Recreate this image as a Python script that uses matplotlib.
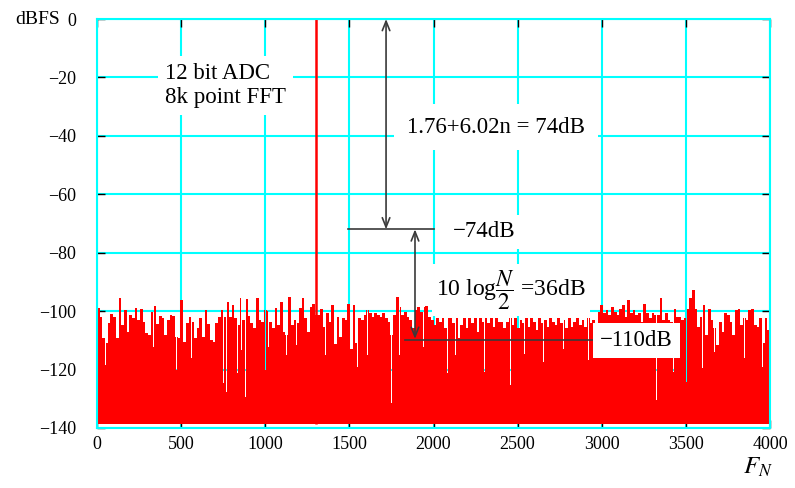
import numpy as np
import matplotlib
matplotlib.use('Agg')
import matplotlib.pyplot as plt
from matplotlib.patches import FancyArrowPatch

# ---------------- data ----------------
bin_width = 16.0  # Hz per read-off slot (0..4000)
noise_db = [
    # 0 - 784 Hz
    -98.8, -101.9, -109.3, -111.0, -104.2, -101.0, -101.9, -109.3, -95.6, -104.8,
    -99.6, -107.0, -101.3, -102.5, -98.8, -103.1, -99.3, -103.6, -107.6, -108.2,
    -100.2, -98.1, -104.5, -101.6, -102.5, -108.2, -103.1, -101.3, -101.6, -108.8,
    -109.3, -96.2, -110.5, -104.2, -101.9, -103.6, -109.3, -105.9, -102.5, -108.8,
    -99.6, -104.5, -109.9, -110.5, -104.2, -101.9, -99.6, -101.9, -96.8, -101.9,
    # 800 - 1584 Hz
    -97.9, -102.5, -104.8, -95.6, -103.1, -95.9, -101.6, -104.2, -105.9, -95.4,
    -103.1, -103.6, -99.6, -100.0, -103.6, -105.9, -98.8, -104.8, -96.8, -107.0,
    -108.2, -95.1, -104.8, -103.1, -104.2, -98.8, -95.6, -102.5, -107.0, -98.5,
    -97.7, -101.3, -101.3, -99.1, -105.3, -100.8, -103.6, -97.9, -111.4, -101.9,
    -108.8, -102.5, -103.1, -97.7, -112.8, -97.9, -111.0, -102.5, -103.1, -101.3,
    # 1600 - 2384 Hz
    -99.6, -100.8, -101.9, -100.8, -101.3, -101.9, -100.8, -102.5, -103.6, -108.2,
    -101.3, -95.1, -98.5, -101.3, -100.2, -101.9, -103.1, -105.9, -99.6, -98.5,
    -100.2, -98.5, -98.1, -101.9, -103.1, -104.8, -102.5, -103.6, -102.5, -105.9,
    -102.5, -102.3, -104.2, -102.5, -109.3, -104.8, -102.5, -105.9, -102.5, -104.2,
    -102.5, -107.0, -102.5, -103.6, -102.5, -104.2, -102.5, -105.3, -102.5, -103.6,
    # 2400 - 3184 Hz
    -103.6, -105.9, -103.6, -102.5, -104.8, -102.5, -105.9, -103.1, -104.2, -102.5,
    -105.3, -102.5, -103.6, -106.5, -102.5, -104.2, -103.1, -105.3, -102.5, -103.6,
    -104.8, -102.5, -104.2, -103.1, -105.9, -102.5, -105.3, -103.6, -102.5, -104.8,
    -103.1, -105.3, -102.5, -104.2, -103.1, -104.8, -100.2, -97.9, -100.8, -99.6,
    -101.3, -98.5, -100.2, -101.3, -99.1, -97.9, -101.9, -96.2, -100.8, -99.6,
    # 3200 - 3984 Hz
    -101.3, -100.8, -103.6, -97.4, -100.8, -102.5, -100.8, -101.3, -101.3, -95.4,
    -103.1, -100.8, -103.1, -103.6, -99.1, -101.9, -101.9, -103.1, -102.5, -99.1,
    -95.6, -92.8, -99.1, -105.3, -101.9, -97.9, -108.2, -99.1, -103.1, -105.9,
    -111.6, -103.6, -107.0, -100.8, -101.3, -103.6, -108.2, -99.6, -99.1, -104.8,
    -102.5, -103.1, -99.6, -99.1, -104.8, -105.3, -102.5, -111.0, -102.5, -106.5,
]
dip_freq = [50, 335, 472, 563, 751, 771, 834, 858, 880, 1000, 1022, 1127, 1187,
            1361, 1547, 1609, 1753, 1797, 1940, 2082, 2132, 2302, 2457, 2538,
            2653, 2770, 2921, 3327, 3426, 3501, 3600, 3673, 3846, 3955]
dip_db = [-118.5, -112.2, -120.2, -116.2, -124.7, -127.6, -121.3, -113.3, -129.3,
          -120.2, -112.2, -115.0, -111.6, -115.0, -119.0, -115.0, -131.6, -115.0,
          -112.2, -121.3, -115.0, -120.8, -125.3, -114.6, -117.3, -112.8, -116.8,
          -130.5, -120.8, -124.2, -119.6, -113.9, -116.2, -119.0]
dip_width = 6.0
signal_freq = 1300
signal_db = 0.0
floor_db = -138.6

x_ticks = [0, 500, 1000, 1500, 2000, 2500, 3000, 3500, 4000]
y_ticks = [0, -20, -40, -60, -80, -100, -120, -140]

# annotation values
full_scale_db = 0.0
sig_level_db = -72.0
floor_level_db = -110.0
arrow1_freq = 1718
arrow2_freq = 1890

# ---------------- style ----------------
plt.rcParams['font.family'] = ['Liberation Serif', 'DejaVu Serif']
plt.rcParams['mathtext.fontset'] = 'stix'

fig = plt.figure(figsize=(7.95, 4.88), dpi=100)
ax = fig.add_axes([97 / 795, 1 - 428 / 488, 673 / 795, 409 / 488])

# spectrum as filled stairs
n = len(noise_db)
edges = set((np.arange(n + 1) * bin_width).tolist())
for f in dip_freq:
    edges.add(f - dip_width / 2)
    edges.add(f + dip_width / 2)
edges = np.array(sorted(edges))
mids = (edges[:-1] + edges[1:]) / 2
idx = np.clip((mids // bin_width).astype(int), 0, n - 1)
vals = np.array(noise_db)[idx]
for f, d in zip(dip_freq, dip_db):
    vals[np.abs(mids - f) < dip_width / 2] = d
ax.stairs(vals, edges, baseline=floor_db, fill=True, color='#ff0000', lw=0, zorder=2)
ax.vlines([signal_freq], floor_db, signal_db, color='#ff0000', lw=1.8, zorder=2)

ax.set_xlim(0, 4000)
ax.set_ylim(-140, 0)
ax.set_xticks(x_ticks)
ax.set_yticks(y_ticks)
ax.grid(True, color='#00ffff', lw=1.5, zorder=0)
ax.set_axisbelow(True)
for s in ax.spines.values():
    s.set_color('#00ffff')
    s.set_linewidth(1.5)
ax.tick_params(direction='in', length=6, width=1, color='black',
               top=True, right=True, labelsize=13)
ax.tick_params(axis='y', pad=15)
ax.tick_params(axis='x', pad=6)

# annotations
lc = '#3a3a3a'
ax.plot([1490, 2000], [sig_level_db, sig_level_db], color=lc, lw=1.2, zorder=4)
ax.plot([1830, 3000], [floor_level_db, floor_level_db], color=lc, lw=1.2, zorder=4)
for fx, y0, y1 in [(arrow1_freq, full_scale_db, sig_level_db),
                   (arrow2_freq, sig_level_db, floor_level_db + 0.5)]:
    ar = FancyArrowPatch((fx, y0), (fx, y1),
                         arrowstyle='<->,head_length=0.45,head_width=0.18',
                         mutation_scale=15, color=lc, lw=1.2, zorder=4,
                         shrinkA=0, shrinkB=0)
    ax.add_patch(ar)

fs = 16.5
box = dict(facecolor='white', edgecolor='none', pad=5)
ax.text(404, -22.8, '12 bit ADC\n8k point FFT', fontsize=fs, ha='left', va='center',
        linespacing=1.2, bbox=box, zorder=5)
ax.text(1843, -37, '1.76+6.02n = 74dB', fontsize=fs, ha='left', va='center',
        bbox=dict(facecolor='white', edgecolor='none', pad=9), zorder=5)
ax.text(2116, -72.9, '\u221274dB', fontsize=fs, ha='left', va='center',
        bbox=box, zorder=5)
ax.text(2015, -92.8, r'10 log$\dfrac{N}{2}$ =36dB', fontsize=fs + 0.5, ha='left',
        va='center', bbox=dict(facecolor='white', edgecolor='none', pad=3), zorder=5)
ax.text(2990, -110, '\u2212110dB', fontsize=fs, ha='left', va='center',
        bbox=box, zorder=5)

fig.text(60 / 795, 1 - 19 / 488, 'dBFS', fontsize=14, ha='right', va='center')
fig.text(743 / 795, 1 - 467 / 488, r'$F_N$', fontsize=18, ha='left', va='center')

fig.savefig('out.png', dpi=100)
